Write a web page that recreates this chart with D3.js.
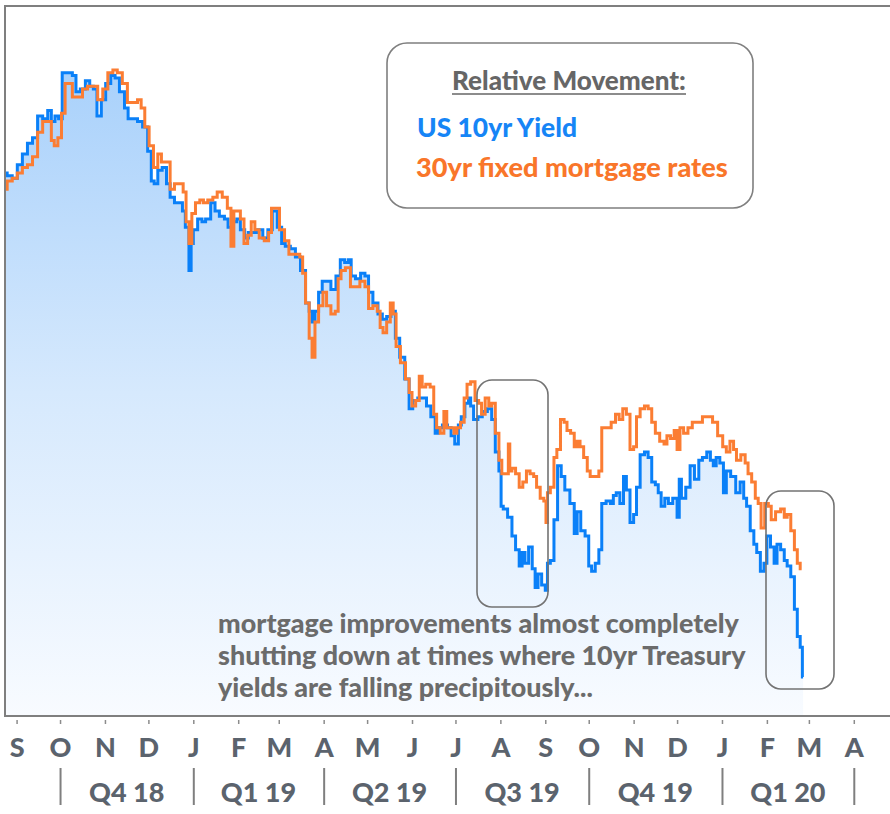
<!DOCTYPE html>
<html>
<head>
<meta charset="utf-8">
<script src="https://cdn.jsdelivr.net/npm/d3@7"></script>
<style>
  body { margin: 0; background: #fff; }
  svg { display: block; }
</style>
</head>
<body>
<div id="chart"></div>
<script>
// US 10yr yield
const yieldDates = [
  "2018-08-24","2018-08-27","2018-08-31","2018-09-03","2018-09-07","2018-09-10","2018-09-14","2018-09-17",
  "2018-09-21","2018-09-24","2018-09-26","2018-09-29","2018-10-01","2018-10-04","2018-10-08","2018-10-11",
  "2018-10-13","2018-10-17","2018-10-20","2018-10-23","2018-10-25","2018-10-28","2018-10-31","2018-11-03",
  "2018-11-07","2018-11-09","2018-11-13","2018-11-16","2018-11-18","2018-11-22","2018-11-25","2018-11-29",
  "2018-12-02","2018-12-04","2018-12-06","2018-12-09","2018-12-12","2018-12-15","2018-12-17","2018-12-21",
  "2018-12-24","2018-12-25","2018-12-28","2018-12-30","2018-12-31","2019-01-02","2019-01-06","2019-01-08",
  "2019-01-11","2019-01-15","2019-01-17","2019-01-21","2019-01-24","2019-01-26","2019-01-30","2019-02-01",
  "2019-02-04","2019-02-07","2019-02-09","2019-02-13","2019-02-16","2019-02-20","2019-02-23","2019-02-26",
  "2019-03-02","2019-03-04","2019-03-07","2019-03-11","2019-03-14","2019-03-18","2019-03-21","2019-03-23",
  "2019-03-25","2019-03-27","2019-03-30","2019-04-01","2019-04-04","2019-04-08","2019-04-11","2019-04-14",
  "2019-04-17","2019-04-19","2019-04-21","2019-04-25","2019-04-28","2019-05-01","2019-05-03","2019-05-07",
  "2019-05-10","2019-05-13","2019-05-16","2019-05-19","2019-05-22","2019-05-25","2019-05-29","2019-05-31",
  "2019-06-03","2019-06-07","2019-06-10","2019-06-12","2019-06-16","2019-06-18","2019-06-20","2019-06-24",
  "2019-06-27","2019-06-29","2019-07-02","2019-07-04","2019-07-06","2019-07-09","2019-07-11","2019-07-12",
  "2019-07-15","2019-07-18","2019-07-21","2019-07-25","2019-07-27","2019-07-30","2019-08-01","2019-08-02",
  "2019-08-04","2019-08-08","2019-08-10","2019-08-13","2019-08-15","2019-08-17","2019-08-19","2019-08-22",
  "2019-08-24","2019-08-26","2019-08-28","2019-08-31","2019-09-02","2019-09-03","2019-09-06","2019-09-08",
  "2019-09-11","2019-09-13","2019-09-16","2019-09-20","2019-09-22","2019-09-24","2019-09-27","2019-09-30",
  "2019-10-02","2019-10-04","2019-10-07","2019-10-09","2019-10-11","2019-10-15","2019-10-17","2019-10-19",
  "2019-10-21","2019-10-24","2019-10-26","2019-10-28","2019-10-31","2019-11-02","2019-11-04","2019-11-07",
  "2019-11-10","2019-11-12","2019-11-15","2019-11-17","2019-11-19","2019-11-21","2019-11-24","2019-11-26",
  "2019-11-30","2019-12-02","2019-12-03","2019-12-05","2019-12-09","2019-12-11","2019-12-15","2019-12-17",
  "2019-12-20","2019-12-23","2019-12-25","2019-12-27","2019-12-29","2020-01-01","2020-01-03","2020-01-05",
  "2020-01-09","2020-01-12","2020-01-15","2020-01-17","2020-01-19","2020-01-22","2020-01-24","2020-01-26",
  "2020-01-29","2020-01-31","2020-02-02","2020-02-05","2020-02-07","2020-02-09","2020-02-12","2020-02-14",
  "2020-02-16","2020-02-19","2020-02-21","2020-02-23","2020-02-25","2020-02-26"
];
const yieldValues = [
  2.86,2.85,2.84,2.89,2.93,2.97,2.99,3.07,
  3.06,3.09,3.05,3.07,3.06,3.23,3.23,3.22,
  3.16,3.17,3.20,3.18,3.17,3.07,3.13,3.19,
  3.22,3.21,3.16,3.10,3.06,3.06,3.05,3.03,
  2.94,2.83,2.82,2.87,2.88,2.82,2.77,2.75,
  2.75,2.72,2.66,2.50,2.60,2.65,2.69,2.68,
  2.69,2.75,2.72,2.70,2.69,2.66,2.68,2.69,
  2.65,2.62,2.64,2.64,2.65,2.62,2.65,2.72,
  2.66,2.60,2.59,2.58,2.55,2.50,2.38,2.35,
  2.31,2.35,2.42,2.46,2.46,2.43,2.48,2.54,
  2.53,2.54,2.48,2.47,2.49,2.48,2.42,2.38,
  2.34,2.32,2.33,2.35,2.25,2.18,2.10,1.99,
  2.02,2.03,2.03,2.00,1.96,1.90,1.92,1.93,
  1.92,1.89,1.86,1.93,1.96,2.01,2.03,2.00,
  1.95,1.96,1.98,1.99,1.95,1.83,1.76,1.63,
  1.62,1.59,1.52,1.47,1.41,1.46,1.42,1.48,
  1.40,1.33,1.38,1.34,1.32,1.42,1.43,1.58,
  1.78,1.74,1.69,1.64,1.53,1.61,1.54,1.52,
  1.41,1.39,1.42,1.47,1.64,1.65,1.64,1.67,
  1.68,1.64,1.74,1.69,1.57,1.60,1.70,1.82,
  1.83,1.81,1.72,1.71,1.68,1.63,1.66,1.64,
  1.66,1.59,1.73,1.66,1.70,1.78,1.73,1.80,
  1.81,1.83,1.80,1.78,1.81,1.79,1.68,1.76,
  1.74,1.68,1.72,1.66,1.63,1.54,1.49,1.46,
  1.39,1.42,1.52,1.48,1.42,1.49,1.47,1.43,
  1.41,1.37,1.25,1.15,1.11,1.00
];

// 30yr fixed mortgage rates, shown on the same relative scale
const mortgageDates = [
  "2018-08-24","2018-08-27","2018-08-31","2018-09-03","2018-09-07","2018-09-10","2018-09-14","2018-09-17",
  "2018-09-21","2018-09-24","2018-09-26","2018-09-28","2018-10-01","2018-10-03","2018-10-06","2018-10-08",
  "2018-10-11","2018-10-15","2018-10-18","2018-10-22","2018-10-25","2018-10-29","2018-11-01","2018-11-05",
  "2018-11-08","2018-11-11","2018-11-15","2018-11-18","2018-11-22","2018-11-25","2018-11-27","2018-11-30",
  "2018-12-03","2018-12-06","2018-12-09","2018-12-11","2018-12-15","2018-12-17","2018-12-21","2018-12-24",
  "2018-12-26","2018-12-28","2018-12-30","2019-01-01","2019-01-04","2019-01-07","2019-01-09","2019-01-13",
  "2019-01-16","2019-01-19","2019-01-23","2019-01-26","2019-01-28","2019-01-30","2019-02-01","2019-02-04",
  "2019-02-06","2019-02-09","2019-02-11","2019-02-14","2019-02-17","2019-02-21","2019-02-23","2019-02-25",
  "2019-02-28","2019-03-03","2019-03-07","2019-03-09","2019-03-14","2019-03-17","2019-03-18","2019-03-21",
  "2019-03-23","2019-03-25","2019-03-27","2019-03-30","2019-04-02","2019-04-04","2019-04-08","2019-04-10",
  "2019-04-12","2019-04-14","2019-04-18","2019-04-21","2019-04-24","2019-04-28","2019-05-01","2019-05-03",
  "2019-05-07","2019-05-09","2019-05-11","2019-05-13","2019-05-16","2019-05-18","2019-05-20","2019-05-22",
  "2019-05-26","2019-05-29","2019-05-31","2019-06-02","2019-06-05","2019-06-07","2019-06-09","2019-06-12",
  "2019-06-15","2019-06-17","2019-06-19","2019-06-22","2019-06-24","2019-06-26","2019-06-29","2019-07-01",
  "2019-07-03","2019-07-06","2019-07-08","2019-07-10","2019-07-13","2019-07-16","2019-07-18","2019-07-20",
  "2019-07-23","2019-07-25","2019-07-27","2019-07-30","2019-08-01","2019-08-03","2019-08-06","2019-08-07",
  "2019-08-08","2019-08-10","2019-08-13","2019-08-15","2019-08-18","2019-08-20","2019-08-23","2019-08-25",
  "2019-08-27","2019-08-30","2019-09-01","2019-09-02","2019-09-03","2019-09-06","2019-09-08","2019-09-10",
  "2019-09-13","2019-09-15","2019-09-17","2019-09-20","2019-09-22","2019-09-24","2019-09-26","2019-09-29",
  "2019-10-01","2019-10-03","2019-10-07","2019-10-09","2019-10-11","2019-10-15","2019-10-18","2019-10-21",
  "2019-10-23","2019-10-26","2019-10-28","2019-10-31","2019-11-02","2019-11-04","2019-11-07","2019-11-10",
  "2019-11-12","2019-11-15","2019-11-17","2019-11-21","2019-11-23","2019-11-25","2019-11-28","2019-11-30",
  "2019-12-02","2019-12-04","2019-12-07","2019-12-10","2019-12-13","2019-12-17","2019-12-20","2019-12-24",
  "2019-12-27","2019-12-31","2020-01-03","2020-01-05","2020-01-08","2020-01-10","2020-01-12","2020-01-16",
  "2020-01-18","2020-01-20","2020-01-23","2020-01-25","2020-01-27","2020-01-29","2020-02-01","2020-02-03",
  "2020-02-05","2020-02-09","2020-02-12","2020-02-14","2020-02-16","2020-02-19","2020-02-21","2020-02-23",
  "2020-02-25"
];
const mortgageValues = [
  2.80,2.83,2.84,2.86,2.88,2.89,2.92,3.01,
  3.05,3.05,2.98,2.96,2.99,3.08,3.19,3.19,
  3.14,3.14,3.17,3.18,3.18,3.13,3.17,3.23,
  3.24,3.23,3.19,3.12,3.12,3.13,3.10,3.03,
  2.96,2.88,2.93,2.90,2.90,2.80,2.82,2.82,
  2.79,2.68,2.60,2.71,2.75,2.76,2.75,2.76,
  2.77,2.79,2.77,2.73,2.59,2.72,2.72,2.69,
  2.60,2.63,2.68,2.65,2.62,2.61,2.64,2.73,
  2.73,2.65,2.61,2.56,2.56,2.55,2.49,2.38,
  2.25,2.18,2.31,2.37,2.42,2.37,2.34,2.35,
  2.47,2.50,2.51,2.44,2.44,2.46,2.44,2.36,
  2.37,2.35,2.29,2.27,2.31,2.38,2.34,2.22,
  2.16,2.10,2.05,2.00,2.02,2.11,2.07,2.08,
  2.07,1.97,1.92,1.90,1.98,1.92,1.92,1.90,
  1.92,1.94,2.03,2.08,2.09,2.02,2.01,1.97,
  2.03,2.00,2.01,1.90,1.80,1.75,1.75,1.86,
  1.76,1.77,1.75,1.70,1.72,1.76,1.75,1.74,
  1.70,1.66,1.65,1.57,1.68,1.70,1.81,1.84,
  1.95,1.94,1.91,1.90,1.85,1.87,1.85,1.81,
  1.76,1.74,1.74,1.76,1.92,1.92,1.94,1.97,
  1.95,1.99,1.97,1.84,1.85,1.96,1.99,2.00,
  1.99,1.94,1.90,1.87,1.86,1.89,1.88,1.91,
  1.84,1.92,1.90,1.92,1.94,1.94,1.96,1.96,
  1.94,1.89,1.85,1.83,1.87,1.84,1.80,1.82,
  1.79,1.75,1.72,1.66,1.64,1.55,1.64,1.63,
  1.58,1.61,1.62,1.59,1.60,1.54,1.47,1.42,
  1.40
];

// axis labels
const monthTicks = [
  "2018-09-01","2018-10-01","2018-11-01","2018-12-01","2019-01-01","2019-02-01","2019-03-01",
  "2019-04-01","2019-05-01","2019-06-01","2019-07-01","2019-08-01","2019-09-01","2019-10-01",
  "2019-11-01","2019-12-01","2020-01-01","2020-02-01","2020-03-01","2020-04-01"
];
const monthLabels = ["S","O","N","D","J","F","M","A","M","J","J","A","S","O","N","D","J","F","M","A"];
const quarterBounds = ["2018-10-01","2019-01-01","2019-04-01","2019-07-01","2019-10-01","2020-01-01","2020-04-01"];
const quarterLabels = ["Q4 18","Q1 19","Q2 19","Q3 19","Q4 19","Q1 20"];

const legendTitle = "Relative Movement:";
const seriesNames = ["US 10yr Yield", "30yr fixed mortgage rates"];
const noteLines = [
  "mortgage improvements almost completely",
  "shutting down at times where 10yr Treasury",
  "yields are falling precipitously..."
];

const parse = d3.timeParse("%Y-%m-%d");
const yieldData = yieldDates.map((d, i) => ({ date: parse(d), value: yieldValues[i] }));
const mortgageData = mortgageDates.map((d, i) => ({ date: parse(d), value: mortgageValues[i] }));

const width = 890, height = 814;
const plotTop = 6, plotBottom = 716, plotLeft = 5, plotRight = 890;
const FONT = "Lato, 'Open Sans', sans-serif";
const BLUE = "#0a80f8", ORANGE = "#fb7d33", GREY = "#7f7f7f", TEXT = "#5b636d";

const svg = d3.select("#chart").append("svg")
  .attr("width", width)
  .attr("height", height);

const x = d3.scaleTime()
  .domain([parse("2018-08-24"), parse("2020-04-26")])
  .range([plotLeft, plotRight]);
const y = d3.scaleLinear()
  .domain([0.86, 3.476])
  .range([715, plotTop]);

// gradient under the yield line
const defs = svg.append("defs");
const grad = defs.append("linearGradient")
  .attr("id", "yieldFill")
  .attr("gradientUnits", "userSpaceOnUse")
  .attr("x1", 0).attr("x2", 0)
  .attr("y1", y(3.24)).attr("y2", 715);
grad.append("stop").attr("offset", 0).attr("stop-color", "#a9d1fb");
grad.append("stop").attr("offset", 0.5).attr("stop-color", "#d6e9fd");
grad.append("stop").attr("offset", 1).attr("stop-color", "#f8fbff");

svg.append("path")
  .datum(yieldData)
  .attr("fill", "url(#yieldFill)")
  .attr("d", d3.area().curve(d3.curveStep).x(d => x(d.date)).y0(715).y1(d => y(d.value)));

const line = d3.line().curve(d3.curveStep).x(d => x(d.date)).y(d => y(d.value));

svg.append("path")
  .datum(yieldData)
  .attr("fill", "none")
  .attr("stroke", BLUE)
  .attr("stroke-width", 3)
  .attr("d", line);

svg.append("path")
  .datum(mortgageData)
  .attr("fill", "none")
  .attr("stroke", ORANGE)
  .attr("stroke-width", 3)
  .attr("d", line);

// frame (open on the right)
svg.append("path")
  .attr("d", `M${plotRight},${plotTop}H${plotLeft}V${plotBottom}H${plotRight}`)
  .attr("fill", "none")
  .attr("stroke", GREY)
  .attr("stroke-width", 2);

// month axis
const monthAxis = svg.append("g")
  .attr("transform", `translate(0,${plotBottom + 4})`)
  .call(d3.axisBottom(x)
    .tickValues(monthTicks.map(parse))
    .tickFormat((d, i) => monthLabels[i])
    .tickSize(4));
monthAxis.select(".domain").remove();
monthAxis.selectAll(".tick line").attr("stroke", "#8c8c8c").attr("stroke-width", 1.5);
monthAxis.selectAll(".tick text")
  .attr("y", 37).attr("dy", 0)
  .attr("fill", TEXT)
  .style("font-family", FONT)
  .style("font-weight", 900)
  .style("font-size", "27px");

// quarter axis
const qAxis = svg.append("g")
  .attr("transform", "translate(0,768)")
  .call(d3.axisBottom(x)
    .tickValues(quarterBounds.map(parse))
    .tickFormat("")
    .tickSize(37));
qAxis.select(".domain").remove();
qAxis.selectAll(".tick line").attr("stroke", GREY).attr("stroke-width", 2);

const qb = quarterBounds.map(parse);
svg.append("g").selectAll("text")
  .data(quarterLabels)
  .join("text")
  .attr("x", (d, i) => x(new Date((+qb[i] + +qb[i + 1]) / 2)))
  .attr("y", 802)
  .attr("text-anchor", "middle")
  .attr("fill", TEXT)
  .style("font-family", FONT)
  .style("font-weight", 900)
  .style("font-size", "27px")
  .text(d => d);

// fit a text element to a measured width
function fitWidth(sel, target) {
  const len = sel.node().getComputedTextLength();
  const fs = parseFloat(sel.style("font-size"));
  sel.style("font-size", (fs * target / len) + "px");
}

// legend box
svg.append("rect")
  .attr("x", 387).attr("y", 43)
  .attr("width", 366).attr("height", 165)
  .attr("rx", 20)
  .attr("fill", "#fff")
  .attr("stroke", GREY)
  .attr("stroke-width", 1.6);

const title = svg.append("text")
  .attr("x", 569).attr("y", 90)
  .attr("text-anchor", "middle")
  .attr("fill", "#666")
  .style("font-family", FONT)
  .style("font-weight", 900)
  .style("font-size", "24px")
  .text(legendTitle);
fitWidth(title, 234);
svg.append("line")
  .attr("x1", 569 - 117).attr("x2", 569 + 117)
  .attr("y1", 94).attr("y2", 94)
  .attr("stroke", "#666").attr("stroke-width", 1.6);

const s1 = svg.append("text")
  .attr("x", 417).attr("y", 137)
  .attr("fill", "#1685f6")
  .style("font-family", FONT)
  .style("font-weight", 900)
  .style("font-size", "24px")
  .text(seriesNames[0]);
fitWidth(s1, 160);
const s2 = svg.append("text")
  .attr("x", 416).attr("y", 177)
  .attr("fill", "#f9762a")
  .style("font-family", FONT)
  .style("font-weight", 900)
  .style("font-size", "24px")
  .text(seriesNames[1]);
fitWidth(s2, 312);

// highlight boxes
svg.append("rect")
  .attr("x", 477).attr("y", 380)
  .attr("width", 71).attr("height", 227)
  .attr("rx", 15)
  .attr("fill", "none")
  .attr("stroke", "#737373")
  .attr("stroke-width", 1.6);
svg.append("rect")
  .attr("x", 766).attr("y", 491)
  .attr("width", 68).attr("height", 198)
  .attr("rx", 15)
  .attr("fill", "none")
  .attr("stroke", "#737373")
  .attr("stroke-width", 1.6);

// note
let noteSize = null;
noteLines.forEach((t, i) => {
  const n = svg.append("text")
    .attr("x", 218).attr("y", 633 + i * 32)
    .attr("fill", "#6b6b6b")
    .style("font-family", FONT)
    .style("font-weight", 900)
    .style("font-size", "22px")
    .text(t);
  if (i === 0) { fitWidth(n, 521); noteSize = n.style("font-size"); }
  else n.style("font-size", noteSize);
});
</script>
</body>
</html>
